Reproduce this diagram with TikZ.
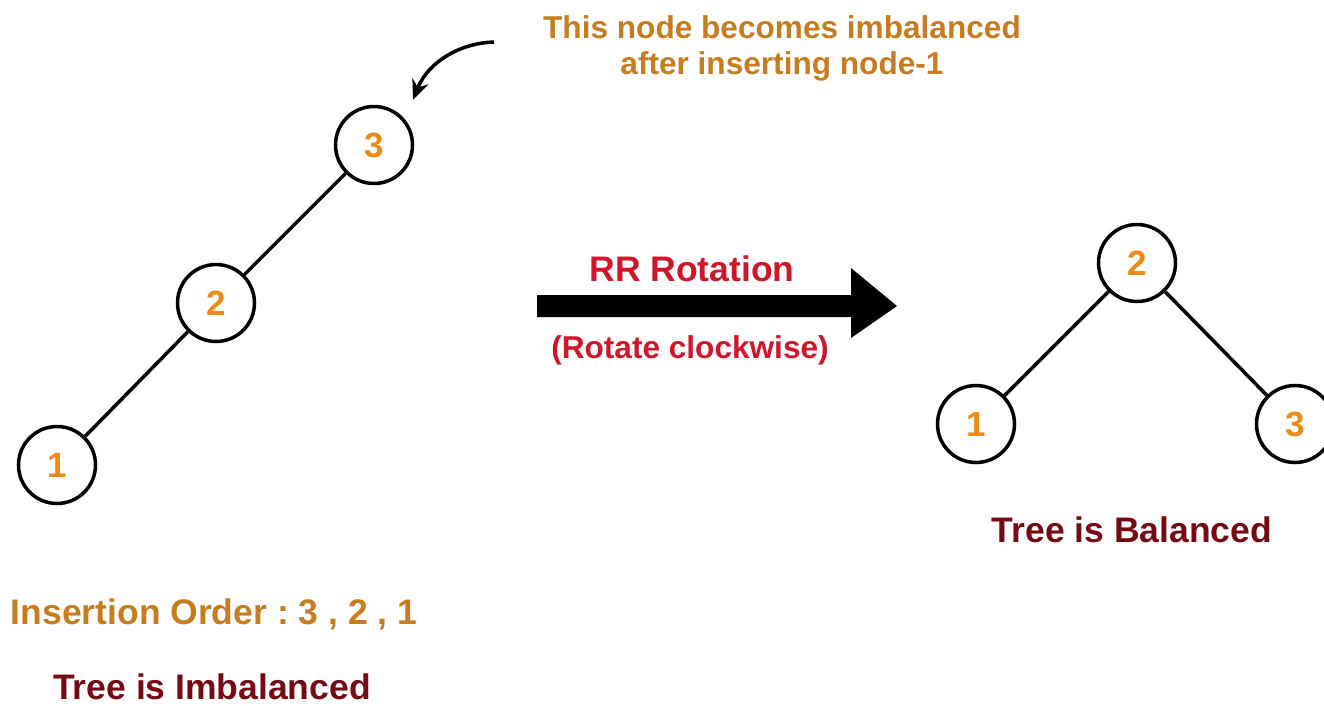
\documentclass[tikz,border=0pt]{standalone}
\usepackage{fontspec}
\setmainfont{Liberation Sans}
\frenchspacing
\usetikzlibrary{arrows.meta}
\definecolor{digitorange}{RGB}{240,138,22}
\definecolor{noteorange}{RGB}{200,124,32}
\definecolor{darkred}{RGB}{118,10,20}
\definecolor{rotred}{RGB}{208,22,42}
\tikzset{
  treenode/.style={circle, draw=black, line width=3.5pt, minimum size=77pt, inner sep=0pt, fill=white,
    font=\fontsize{35}{40}\selectfont\bfseries, text=digitorange},
  edge/.style={line width=3.5pt, black},
  bigtext/.style={font=\fontsize{35.5}{40}\selectfont\bfseries, anchor=base},
  smalltext/.style={font=\fontsize{31.6}{36}\selectfont\bfseries, anchor=base}
}
\begin{document}
\begin{tikzpicture}[x=1pt,y=-1pt]
\useasboundingbox (0,0) rectangle (1324,705);
% left tree
\node[treenode] (L3) at (374,145) {3};
\node[treenode] (L2) at (216,303) {2};
\node[treenode] (L1) at (57,465) {1};
\draw[edge] (L3) -- (L2);
\draw[edge] (L2) -- (L1);
% right tree
\node[treenode] (R2) at (1137,263) {2};
\node[treenode] (R1) at (976,424) {1};
\node[treenode] (R3) at (1295,424) {3};
\draw[edge] (R2) -- (R1);
\draw[edge] (R2) -- (R3);
% annotation
\node[smalltext, text=noteorange] (note1) at (782,38) {This node becomes imbalanced};
\node[smalltext, text=noteorange] (note2) at (782,74) {after inserting node-1};
\coordinate (nstart) at (494,42);
\coordinate (ntip) at (413,100);
\draw[line width=3.5pt, -{Stealth[length=20pt,width=17pt]}] (nstart) .. controls (460,43) and (428,62) .. (ntip);
% big arrow
\fill[black] (537,295) -- (851,295) -- (851,268) -- (897,306) -- (851,338) -- (851,317) -- (537,317) -- cycle;
\node[bigtext, text=rotred] (rr) at (692,281) {RR Rotation};
\node[smalltext, text=rotred] (rc) at (690,358) {(Rotate clockwise)};
% captions
\node[bigtext, text=noteorange] (order) at (214,624) {Insertion Order : 3 , 2 , 1};
\node[bigtext, text=darkred] (imb) at (212,699) {Tree is Imbalanced};
\node[bigtext, text=darkred] (bal) at (1132,542) {Tree is Balanced};
\end{tikzpicture}
\end{document}
